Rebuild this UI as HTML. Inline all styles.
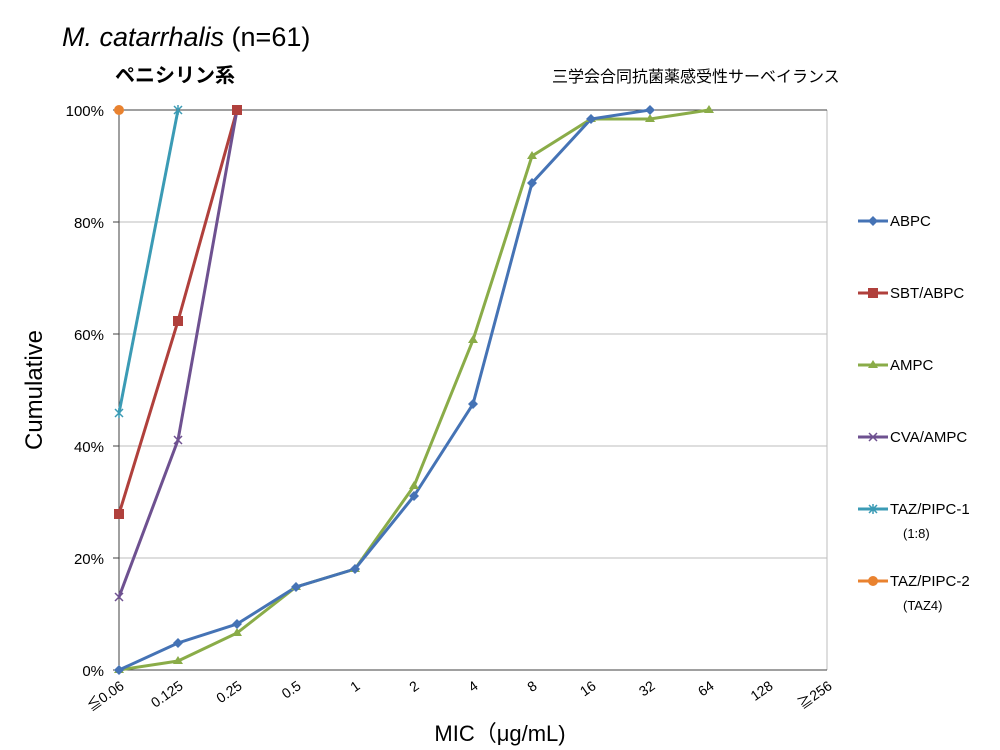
<!DOCTYPE html>
<html><head><meta charset="utf-8"><style>body{margin:0;background:#fff}svg{display:block}</style></head><body>
<svg width="1000" height="750" xmlns="http://www.w3.org/2000/svg" font-family="Liberation Sans, Noto Sans CJK JP, sans-serif">
<rect width="1000" height="750" fill="#fff"/>
<text x="62" y="46" font-size="27" fill="#000"><tspan font-style="italic">M. catarrhalis</tspan> (n=61)</text>
<text x="115" y="82" font-size="20" font-weight="bold" fill="#000">ペニシリン系</text>
<text x="552" y="82" font-size="16" fill="#000">三学会合同抗菌薬感受性サーベイランス</text>
<g stroke="#bdbdbd" stroke-width="1">
<line x1="119" y1="222" x2="827" y2="222"/><line x1="119" y1="334" x2="827" y2="334"/>
<line x1="119" y1="446" x2="827" y2="446"/><line x1="119" y1="558" x2="827" y2="558"/>
<line x1="827" y1="110" x2="827" y2="670"/>
</g>
<line x1="119" y1="110" x2="827" y2="110" stroke="#404040"/>
<line x1="119" y1="110" x2="119" y2="670" stroke="#404040"/>
<line x1="113" y1="670" x2="827" y2="670" stroke="#404040"/>
<g stroke="#404040"><line x1="113" y1="110" x2="119" y2="110"/><line x1="113" y1="222" x2="119" y2="222"/><line x1="113" y1="334" x2="119" y2="334"/><line x1="113" y1="446" x2="119" y2="446"/><line x1="113" y1="558" x2="119" y2="558"/></g>
<g font-size="15" text-anchor="end" fill="#000">
<text x="104" y="116">100%</text><text x="104" y="228">80%</text><text x="104" y="340">60%</text><text x="104" y="452">40%</text><text x="104" y="564">20%</text><text x="104" y="676">0%</text>
</g>
<text transform="translate(42 390) rotate(-90)" font-size="24" text-anchor="middle">Cumulative</text>
<g font-size="14" text-anchor="end">
<text transform="translate(125 688) rotate(-35)">≦0.06</text>
<text transform="translate(184 688) rotate(-35)">0.125</text>
<text transform="translate(243 688) rotate(-35)">0.25</text>
<text transform="translate(302 688) rotate(-35)">0.5</text>
<text transform="translate(361 688) rotate(-35)">1</text>
<text transform="translate(420 688) rotate(-35)">2</text>
<text transform="translate(479 688) rotate(-35)">4</text>
<text transform="translate(538 688) rotate(-35)">8</text>
<text transform="translate(597 688) rotate(-35)">16</text>
<text transform="translate(656 688) rotate(-35)">32</text>
<text transform="translate(715 688) rotate(-35)">64</text>
<text transform="translate(774 688) rotate(-35)">128</text>
<text transform="translate(833 688) rotate(-35)">≧256</text>
</g>
<text x="500" y="741" font-size="22" text-anchor="middle">MIC（μg/mL)</text>
<g fill="none" stroke-width="3">
<polyline stroke="#8aac48" points="119,670 178,661 237,633 296,587 355,569 414,486 473,340 532,156 591,119 650,119 709,110"/>
<polyline stroke="#4573b5" points="119,670 178,643 237,624 296,587 355,569 414,496 473,404 532,183 591,119 650,110"/>
<polyline stroke="#b0403c" points="119,514 178,321 237,110"/>
<polyline stroke="#6e5190" points="119,597 178,440 237,110"/>
<polyline stroke="#3b9bb5" points="119,413 178,110"/>
</g>
<g fill="#8aac48"><path d="M119,665l5,8h-10z"/><path d="M178,656l5,8h-10z"/><path d="M237,628l5,8h-10z"/><path d="M296,582l5,8h-10z"/><path d="M355,564l5,8h-10z"/><path d="M414,481l5,8h-10z"/><path d="M473,335l5,8h-10z"/><path d="M532,151l5,8h-10z"/><path d="M591,114l5,8h-10z"/><path d="M650,114l5,8h-10z"/><path d="M709,105l5,8h-10z"/></g>
<g fill="#4573b5"><path d="M119,665l5,5-5,5-5-5z"/><path d="M178,638l5,5-5,5-5-5z"/><path d="M237,619l5,5-5,5-5-5z"/><path d="M296,582l5,5-5,5-5-5z"/><path d="M355,564l5,5-5,5-5-5z"/><path d="M414,491l5,5-5,5-5-5z"/><path d="M473,399l5,5-5,5-5-5z"/><path d="M532,178l5,5-5,5-5-5z"/><path d="M591,114l5,5-5,5-5-5z"/><path d="M650,105l5,5-5,5-5-5z"/></g>
<g fill="#b0403c"><rect x="114" y="509" width="10" height="10"/><rect x="173" y="316" width="10" height="10"/><rect x="232" y="105" width="10" height="10"/></g>
<g stroke="#6e5190" stroke-width="1.5"><path d="M115,593l8,8M123,593l-8,8M174,436l8,8M182,436l-8,8"/></g>
<g stroke="#3b9bb5" stroke-width="1.5"><path d="M115,409l8,8M123,409l-8,8M119,408v10M174,106l8,8M182,106l-8,8M178,105v10"/></g>
<circle cx="119" cy="110" r="5" fill="#e9822f"/>
<g font-size="15">
<line x1="858" y1="221" x2="888" y2="221" stroke="#4573b5" stroke-width="3"/><path d="M873,216l5,5-5,5-5-5z" fill="#4573b5"/><text x="890" y="226">ABPC</text>
<line x1="858" y1="293" x2="888" y2="293" stroke="#b0403c" stroke-width="3"/><rect x="868" y="288" width="10" height="10" fill="#b0403c"/><text x="890" y="298">SBT/ABPC</text>
<line x1="858" y1="365" x2="888" y2="365" stroke="#8aac48" stroke-width="3"/><path d="M873,360l5,8h-10z" fill="#8aac48"/><text x="890" y="370">AMPC</text>
<line x1="858" y1="437" x2="888" y2="437" stroke="#6e5190" stroke-width="3"/><path d="M869,433l8,8M877,433l-8,8" stroke="#6e5190" stroke-width="1.5"/><text x="890" y="442">CVA/AMPC</text>
<line x1="858" y1="509" x2="888" y2="509" stroke="#3b9bb5" stroke-width="3"/><path d="M869,505l8,8M877,505l-8,8M873,504v10" stroke="#3b9bb5" stroke-width="1.5"/><text x="890" y="514">TAZ/PIPC-1</text>
<text x="903" y="538" font-size="13">(1:8)</text>
<line x1="858" y1="581" x2="888" y2="581" stroke="#e9822f" stroke-width="3"/><circle cx="873" cy="581" r="5" fill="#e9822f"/><text x="890" y="586">TAZ/PIPC-2</text>
<text x="903" y="610" font-size="13">(TAZ4)</text>
</g>
</svg>
</body></html>
